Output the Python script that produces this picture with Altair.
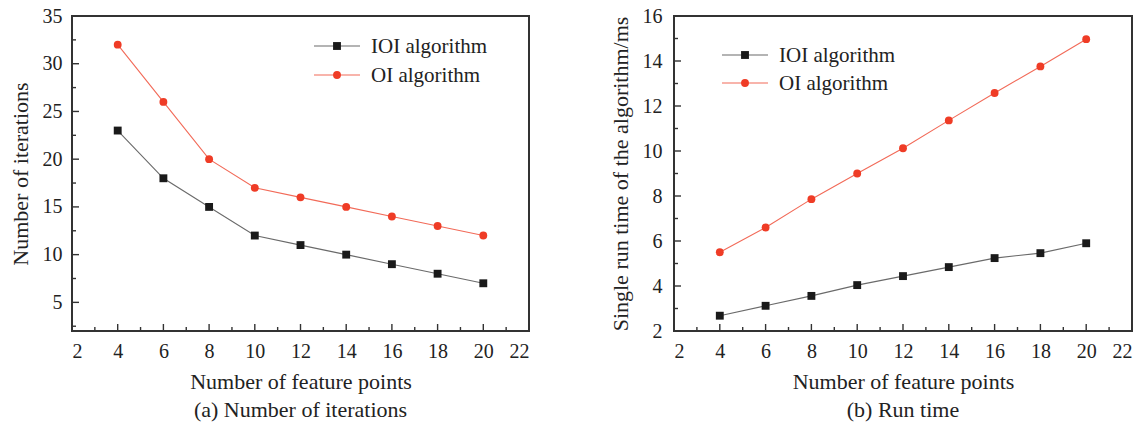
import altair as alt
import pandas as pd

# ---------------- data ----------------
series_names = ["IOI algorithm", "OI algorithm"]
feature_points = [4, 6, 8, 10, 12, 14, 16, 18, 20]

iterations_ioi = [23, 18, 15, 12, 11, 10, 9, 8, 7]
iterations_oi = [32, 26, 20, 17, 16, 15, 14, 13, 12]

runtime_ioi = [2.68, 3.12, 3.56, 4.04, 4.44, 4.84, 5.24, 5.46, 5.90]
runtime_oi = [5.50, 6.60, 7.86, 9.00, 10.12, 11.36, 12.58, 13.76, 14.97]

x_major = [2, 4, 6, 8, 10, 12, 14, 16, 18, 20, 22]
x_minor = [3, 5, 7, 9, 11, 13, 15, 17, 19, 21]
y_major_a = [5, 10, 15, 20, 25, 30, 35]
y_minor_a = [2.5, 7.5, 12.5, 17.5, 22.5, 27.5, 32.5]
y_major_b = [2, 4, 6, 8, 10, 12, 14, 16]
y_minor_b = [3, 5, 7, 9, 11, 13, 15]

# ---------------- style ----------------
FONT = "Liberation Serif"
TEXT_COLOR = "#222222"
line_colors = ["#6a6a6a", "#f26a58"]
marker_colors = ["#1a1a1a", "#ef3c26"]
marker_shapes = ["square", "circle"]
W_A, W_B, H = 457, 458, 315


def axis(values, title, label_pad, title_pad):
    return alt.Axis(values=values, format="d", title=title, grid=False, ticks=False,
                    domain=False, labelPadding=label_pad, titlePadding=title_pad,
                    labelFont=FONT, labelFontSize=20, labelColor=TEXT_COLOR,
                    titleFont=FONT, titleFontSize=22, titleFontWeight="normal",
                    titleColor=TEXT_COLOR)


def make_panel(ioi, oi, y_domain, y_major, y_minor, y_title, caption, width,
               legend_x, legend_y, label_pad):
    df = pd.DataFrame({
        "x": feature_points * 2,
        "y": ioi + oi,
        "series": [series_names[0]] * len(ioi) + [series_names[1]] * len(oi),
    })
    xs = alt.Scale(domain=[2, 22], nice=False, zero=False)
    ys = alt.Scale(domain=y_domain, nice=False, zero=False)

    base = alt.Chart(df)
    lines = base.mark_line(strokeWidth=1.1).encode(
        x=alt.X("x:Q", scale=xs, axis=axis(x_major, "Number of feature points", 10, 10)),
        y=alt.Y("y:Q", scale=ys, axis=axis(y_major, y_title, label_pad, 10)),
        color=alt.Color("series:N", scale=alt.Scale(domain=series_names, range=line_colors),
                        legend=None),
        detail="series:N",
    )
    points = base.mark_point(filled=True, opacity=1, size=62, strokeWidth=0).encode(
        x=alt.X("x:Q", scale=xs),
        y=alt.Y("y:Q", scale=ys),
        fill=alt.Fill("series:N", scale=alt.Scale(domain=series_names, range=marker_colors),
                      legend=None),
        shape=alt.Shape("series:N", scale=alt.Scale(domain=series_names, range=marker_shapes),
                        legend=None),
    )

    tick_color = "#333333"
    xmaj = alt.Chart(pd.DataFrame({"x": x_major})).mark_rule(color=tick_color, strokeWidth=1.4).encode(
        x=alt.X("x:Q", scale=xs), y=alt.value(H), y2=alt.value(H - 7))
    xmin = alt.Chart(pd.DataFrame({"x": x_minor})).mark_rule(color=tick_color, strokeWidth=1.4).encode(
        x=alt.X("x:Q", scale=xs), y=alt.value(H), y2=alt.value(H - 4))
    ymaj = alt.Chart(pd.DataFrame({"y": y_major})).mark_rule(color=tick_color, strokeWidth=1.4).encode(
        y=alt.Y("y:Q", scale=ys), x=alt.value(0), x2=alt.value(7))
    ymin = alt.Chart(pd.DataFrame({"y": y_minor})).mark_rule(color=tick_color, strokeWidth=1.4).encode(
        y=alt.Y("y:Q", scale=ys), x=alt.value(0), x2=alt.value(4))

    legend_layers = []
    for i, name in enumerate(series_names):
        ly = legend_y[i]
        ldf = pd.DataFrame({"name": [name]})
        lc = alt.Chart(ldf)
        legend_layers.append(lc.mark_rule(color=line_colors[i], strokeWidth=1.1).encode(
            x=alt.value(legend_x), x2=alt.value(legend_x + 46), y=alt.value(ly)))
        legend_layers.append(lc.mark_point(filled=True, opacity=1, size=62, shape=marker_shapes[i],
                                           color=marker_colors[i], strokeWidth=0).encode(
            x=alt.value(legend_x + 23), y=alt.value(ly)))
        legend_layers.append(lc.mark_text(align="left", baseline="middle", font=FONT, fontSize=21,
                                          color=TEXT_COLOR).encode(
            x=alt.value(legend_x + 57), y=alt.value(ly + 1), text="name:N"))

    return alt.layer(lines, points, xmaj, xmin, ymaj, ymin, *legend_layers).properties(
        width=width, height=H,
        title=alt.TitleParams(text=caption, orient="bottom", anchor="middle", font=FONT,
                              fontSize=22, fontWeight="normal", color=TEXT_COLOR, offset=8),
    )


panel_a = make_panel(iterations_ioi, iterations_oi, [2, 35], y_major_a, y_minor_a,
                     "Number of iterations", "(a) Number of iterations", W_A,
                     242, [30, 59], 10)
panel_b = make_panel(runtime_ioi, runtime_oi, [2, 16], y_major_b, y_minor_b,
                     "Single run time of the algorithm/ms", "(b) Run time", W_B,
                     48, [39, 67], 12)

chart = alt.hconcat(panel_a, panel_b, spacing=77).properties(
    padding={"left": 8, "top": 5, "right": 0, "bottom": 0},
    background="white",
).configure_view(
    stroke="#333333", strokeWidth=2,
).configure_axis(
    labelFont=FONT, labelFontSize=20, labelColor=TEXT_COLOR,
    titleFont=FONT, titleFontSize=22, titleFontWeight="normal", titleColor=TEXT_COLOR,
)

chart.save("out.html", embed_options={"renderer": "svg", "actions": False})
